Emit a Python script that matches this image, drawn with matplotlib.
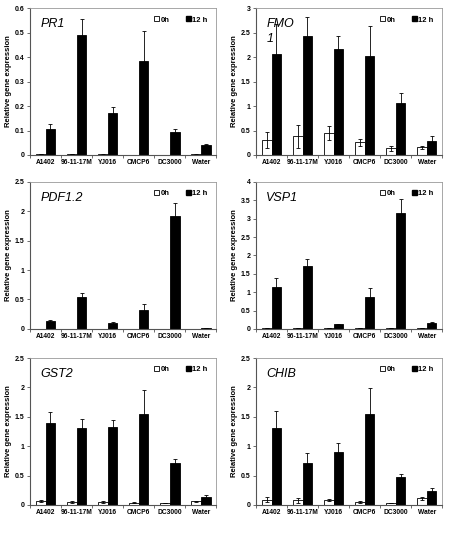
import matplotlib
matplotlib.use('Agg')
import matplotlib.pyplot as plt
from matplotlib.patches import Patch
import numpy as np

plt.rcParams['font.family'] = ['Liberation Sans', 'DejaVu Sans']

strains = ['A1402', '96-11-17M', 'YJ016', 'CMCP6', 'DC3000', 'Water']

# means and errors, 0h and 12h, per gene
pr1_0h = [0.004, 0.002, 0.002, 0.001, 0.001, 0.002]
pr1_0h_err = [0.001, 0.0, 0.001, 0.0, 0.0, 0.001]
pr1_12h = [0.105, 0.49, 0.17, 0.385, 0.095, 0.042]
pr1_12h_err = [0.02, 0.065, 0.025, 0.12, 0.012, 0.002]

fmo1_0h = [0.31, 0.38, 0.45, 0.26, 0.14, 0.16]
fmo1_0h_err = [0.16, 0.24, 0.15, 0.07, 0.05, 0.03]
fmo1_12h = [2.07, 2.44, 2.16, 2.03, 1.07, 0.29]
fmo1_12h_err = [0.6, 0.38, 0.27, 0.6, 0.2, 0.1]

pdf_0h = [0.005, 0.005, 0.005, 0.005, 0.005, 0.005]
pdf_0h_err = [0, 0, 0, 0, 0, 0]
pdf_12h = [0.13, 0.54, 0.10, 0.32, 1.92, 0.008]
pdf_12h_err = [0.025, 0.07, 0.01, 0.1, 0.22, 0.0]

vsp1_0h = [0.01, 0.01, 0.01, 0.01, 0.01, 0.01]
vsp1_0h_err = [0, 0, 0, 0, 0, 0]
vsp1_12h = [1.15, 1.72, 0.12, 0.87, 3.16, 0.17]
vsp1_12h_err = [0.23, 0.17, 0.02, 0.23, 0.37, 0.02]

gst2_0h = [0.06, 0.05, 0.05, 0.04, 0.03, 0.06]
gst2_0h_err = [0.015, 0.01, 0.015, 0.01, 0.005, 0.01]
gst2_12h = [1.40, 1.31, 1.33, 1.54, 0.72, 0.14]
gst2_12h_err = [0.18, 0.16, 0.12, 0.42, 0.06, 0.02]

chib_0h = [0.09, 0.08, 0.08, 0.05, 0.03, 0.11]
chib_0h_err = [0.04, 0.04, 0.02, 0.02, 0.005, 0.03]
chib_12h = [1.31, 0.72, 0.90, 1.54, 0.47, 0.23]
chib_12h_err = [0.29, 0.17, 0.16, 0.45, 0.05, 0.06]

panels = [
    ('PR1', 0.6, 0.1, pr1_0h, pr1_0h_err, pr1_12h, pr1_12h_err),
    ('FMO\n1', 3, 0.5, fmo1_0h, fmo1_0h_err, fmo1_12h, fmo1_12h_err),
    ('PDF1.2', 2.5, 0.5, pdf_0h, pdf_0h_err, pdf_12h, pdf_12h_err),
    ('VSP1', 4, 0.5, vsp1_0h, vsp1_0h_err, vsp1_12h, vsp1_12h_err),
    ('GST2', 2.5, 0.5, gst2_0h, gst2_0h_err, gst2_12h, gst2_12h_err),
    ('CHIB', 2.5, 0.5, chib_0h, chib_0h_err, chib_12h, chib_12h_err),
]

# axes boxes in figure fractions
lefts = [0.067, 0.569]
bottoms = [0.713, 0.391, 0.065]
w, h = 0.414, 0.272

fig = plt.figure(figsize=(4.5, 5.4), dpi=100)
x = np.arange(len(strains))
bw = 0.31

for i, (gene, ymax, step, m0, e0, m12, e12) in enumerate(panels):
    ax = fig.add_axes([lefts[i % 2], bottoms[i // 2], w, h])
    ax.bar(x - bw / 2, m0, bw, color='white', edgecolor='black', linewidth=0.6,
           yerr=e0, error_kw=dict(ecolor='black', elinewidth=0.6, capsize=1.5, capthick=0.6))
    ax.bar(x + bw / 2, m12, bw, color='black', edgecolor='black', linewidth=0.6,
           yerr=e12, error_kw=dict(ecolor='black', elinewidth=0.6, capsize=1.5, capthick=0.6))
    ax.set_xlim(-0.5, len(strains) - 0.5)
    ax.set_ylim(0, ymax)
    ticks = np.arange(0, ymax + step / 2, step)
    ax.set_yticks(ticks)
    ax.set_yticklabels(['%g' % round(t, 2) for t in ticks])
    ax.set_xticks(x)
    ax.set_xticklabels(strains)
    ax.set_xticks(np.arange(-0.5, len(strains)), minor=True)
    ax.tick_params(axis='x', which='major', length=0, pad=3, labelsize=4.8)
    ax.tick_params(axis='x', which='minor', length=2.5, width=0.6, color='#555555')
    ax.tick_params(axis='y', length=2.5, width=0.6, pad=1.5, labelsize=5, color='#555555')
    for lab in ax.get_xticklabels() + ax.get_yticklabels():
        lab.set_fontweight('bold')
    for side in ['left', 'bottom']:
        ax.spines[side].set_color('#555555')
        ax.spines[side].set_linewidth(0.8)
    for side in ['top', 'right']:
        ax.spines[side].set_color('#999999')
        ax.spines[side].set_linewidth(0.6)
    ax.set_ylabel('Relative gene expression', fontsize=5.5, fontweight='bold', labelpad=2)
    ax.text(0.055, 0.93, gene, transform=ax.transAxes, fontsize=9, style='italic',
            ha='left', va='top', linespacing=1.3)
    handles = [Patch(facecolor='white', edgecolor='black', linewidth=0.6),
               Patch(facecolor='black', edgecolor='black')]
    ax.legend(handles, ['0h', '12 h'], loc='upper right', bbox_to_anchor=(0.99, 0.99),
              ncol=2, frameon=False, handlelength=0.6, handleheight=0.6,
              handletextpad=0.2, columnspacing=2.2, prop={'weight': 'bold', 'size': 5.5})

fig.savefig('out.png', dpi=100)
